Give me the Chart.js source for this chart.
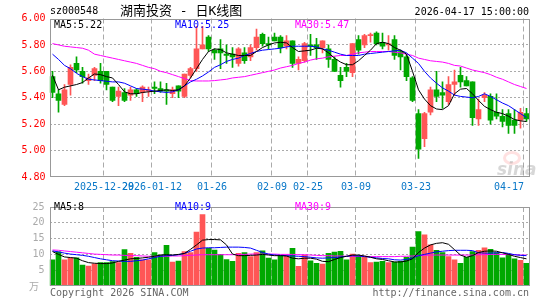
<!DOCTYPE html>
<html>
<head>
<meta charset="utf-8">
<script src="https://cdn.jsdelivr.net/npm/chart.js@4.4.1/dist/chart.umd.min.js"></script>
<style>
body{margin:0;background:#fff;}
#wrap{position:relative;width:545px;height:300px;overflow:hidden;font-family:'DejaVu Sans Mono',monospace;font-size:10px;color:#000;}
.t{position:absolute;white-space:pre;line-height:12px;}
canvas{position:absolute;left:0;}
</style>
</head>
<body>
<div id="wrap">
  <canvas id="kline" width="545" height="196" style="top:0"></canvas>
  <canvas id="vol" width="545" height="104" style="top:196px"></canvas>

  <div class="t" style="left:50px;top:5px">sz000548</div>
  <div class="t" style="left:120px;top:3px;font-size:13px;line-height:15px;font-family:'DejaVu Sans Mono','Noto Sans CJK SC',monospace">湖南投资 - 日K线图</div>
  <div class="t" style="right:16px;top:6px">2026-04-17 15:00:00</div>

  <div class="t" id="lg5" style="left:54px;top:19px;color:#000"></div>
  <div class="t" id="lg10" style="left:175px;top:19px;color:#00f"></div>
  <div class="t" id="lg30" style="left:295px;top:19px;color:#f0f"></div>

  <div class="t" id="vg5" style="left:54px;top:201px;color:#000"></div>
  <div class="t" id="vg10" style="left:175px;top:201px;color:#00f"></div>
  <div class="t" id="vg30" style="left:295px;top:201px;color:#f0f"></div>

  <div class="t" style="left:29px;top:280px;color:#aaa;font-family:'Noto Sans CJK SC'">万</div>
  <div class="t" style="left:503px;top:151px;width:12px;height:8px;border-radius:50%;border:3px solid rgba(255,120,120,.22)"></div>
  <div class="t" style="left:497px;top:159px;font:italic bold 17px 'DejaVu Sans';color:rgba(140,140,140,.35)">sina</div>

  <div class="t" style="left:50px;top:287px;color:#666">Copyright 2026 SINA.COM</div>
  <div class="t" style="right:16px;top:287px;color:#666">http://finance.sina.com.cn</div>
</div>

<script>
// trading days shown (sz000548, daily)
const dates = [
  "2025-12-16","2025-12-17","2025-12-18","2025-12-19","2025-12-22","2025-12-23","2025-12-24","2025-12-25","2025-12-26","2025-12-29",
  "2025-12-30","2025-12-31","2026-01-05","2026-01-06","2026-01-07","2026-01-08","2026-01-09","2026-01-12","2026-01-13","2026-01-14",
  "2026-01-15","2026-01-16","2026-01-19","2026-01-20","2026-01-21","2026-01-22","2026-01-23","2026-01-26","2026-01-27","2026-01-28",
  "2026-01-29","2026-01-30","2026-02-02","2026-02-03","2026-02-04","2026-02-05","2026-02-06","2026-02-09","2026-02-10","2026-02-11",
  "2026-02-12","2026-02-13","2026-02-24","2026-02-25","2026-02-26","2026-02-27","2026-03-02","2026-03-03","2026-03-04","2026-03-05",
  "2026-03-06","2026-03-09","2026-03-10","2026-03-11","2026-03-12","2026-03-13","2026-03-16","2026-03-17","2026-03-18","2026-03-19",
  "2026-03-20","2026-03-23","2026-03-24","2026-03-25","2026-03-26","2026-03-27","2026-03-30","2026-03-31","2026-04-01","2026-04-02",
  "2026-04-03","2026-04-07","2026-04-08","2026-04-09","2026-04-10","2026-04-13","2026-04-14","2026-04-15","2026-04-16","2026-04-17"
];
const tickDates = ["2025-12-29","2026-01-12","2026-01-26","2026-02-09","2026-02-25","2026-03-09","2026-03-23","2026-04-17"];
const tickText  = ["2025-12-29","2026-01-12","01-26","02-09","02-25","03-09","03-23","04-17"];

const opens  = [5.56,5.43,5.35,5.50,5.66,5.60,5.53,5.57,5.60,5.60, 5.48,5.41,5.44,5.42,5.46,5.44,5.45,5.48,5.47,5.46,
                5.43,5.49,5.41,5.57,5.62,5.77,5.86,5.76,5.77,5.73, 5.73,5.66,5.74,5.71,5.78,5.88,5.81,5.86,5.86,5.79,
                5.83,5.66,5.68,5.80,5.80,5.78,5.77,5.69,5.57,5.63, 5.59,5.84,5.80,5.87,5.89,5.82,5.80,5.84,5.75,5.71,
                5.55,5.28,5.09,5.29,5.46,5.44,5.37,5.50,5.57,5.53, 5.52,5.24,5.40,5.41,5.29,5.26,5.28,5.23,5.23,5.28];
const highs  = [5.60,5.46,5.50,5.65,5.71,5.63,5.58,5.63,5.66,5.60, 5.48,5.48,5.47,5.48,5.47,5.49,5.48,5.52,5.52,5.51,
                5.48,5.49,5.58,5.63,5.94,5.94,5.87,5.77,5.84,5.80, 5.78,5.78,5.78,5.80,5.92,5.89,5.86,5.89,5.87,5.87,
                5.83,5.71,5.82,5.88,5.85,5.83,5.80,5.71,5.63,5.66, 5.81,5.87,5.88,5.89,5.90,5.89,5.87,5.87,5.76,5.73,
                5.56,5.31,5.29,5.48,5.60,5.52,5.56,5.61,5.63,5.56, 5.52,5.39,5.44,5.43,5.43,5.31,5.31,5.31,5.32,5.32];
const lows   = [5.40,5.29,5.34,5.42,5.59,5.51,5.50,5.53,5.51,5.46, 5.37,5.34,5.37,5.38,5.41,5.37,5.41,5.43,5.44,5.35,
                5.40,5.40,5.40,5.55,5.60,5.77,5.75,5.69,5.62,5.66, 5.63,5.64,5.66,5.68,5.76,5.79,5.77,5.83,5.74,5.77,
                5.63,5.61,5.67,5.72,5.69,5.74,5.63,5.60,5.48,5.56, 5.56,5.73,5.78,5.82,5.80,5.77,5.76,5.69,5.61,5.53,
                5.37,4.94,5.03,5.27,5.37,5.32,5.35,5.42,5.48,5.49, 5.19,5.19,5.37,5.20,5.24,5.18,5.13,5.13,5.17,5.22];
const closes = [5.44,5.38,5.46,5.63,5.61,5.56,5.55,5.62,5.53,5.50, 5.38,5.45,5.38,5.46,5.43,5.48,5.46,5.47,5.45,5.45,
                5.46,5.45,5.58,5.62,5.77,5.80,5.77,5.74,5.74,5.72, 5.71,5.77,5.68,5.78,5.86,5.81,5.80,5.83,5.78,5.83,
                5.66,5.69,5.81,5.79,5.78,5.83,5.69,5.60,5.53,5.60, 5.81,5.76,5.87,5.87,5.81,5.79,5.80,5.72,5.71,5.56,
                5.38,5.01,5.28,5.46,5.41,5.42,5.50,5.52,5.52,5.49, 5.25,5.31,5.42,5.23,5.26,5.22,5.19,5.19,5.29,5.24];

const ma5  = [5.57,5.46,5.48,5.49,5.50,5.515,5.55,5.58,5.575,5.56, 5.55,5.50,5.445,5.43,5.43,5.44,5.445,5.45,5.455,5.46,
              5.455,5.46,5.49,5.55,5.62,5.69,5.75,5.77,5.765,5.74, 5.73,5.72,5.72,5.72,5.75,5.78,5.80,5.815,5.82,5.815,
              5.78,5.75,5.755,5.76,5.775,5.77,5.74,5.70,5.67,5.65, 5.65,5.68,5.72,5.76,5.81,5.82,5.81,5.78,5.76,5.73,
              5.60,5.46,5.39,5.34,5.315,5.31,5.34,5.43,5.465,5.47, 5.43,5.38,5.335,5.31,5.29,5.28,5.26,5.235,5.225,5.22];
const ma10 = [5.73,5.69,5.645,5.62,5.585,5.56,5.54,5.535,5.53,5.525, 5.52,5.52,5.51,5.49,5.47,5.465,5.46,5.45,5.445,5.44,
              5.445,5.46,5.49,5.52,5.54,5.565,5.595,5.63,5.65,5.675, 5.69,5.70,5.72,5.735,5.75,5.76,5.765,5.77,5.775,5.785,
              5.79,5.79,5.79,5.79,5.785,5.77,5.76,5.745,5.73,5.72, 5.72,5.72,5.73,5.735,5.74,5.745,5.75,5.755,5.76,5.74,
              5.70,5.66,5.60,5.55,5.51,5.475,5.45,5.42,5.41,5.405, 5.40,5.41,5.43,5.41,5.385,5.36,5.34,5.31,5.28,5.25];
const ma30 = [5.81,5.80,5.79,5.785,5.78,5.775,5.76,5.73,5.72,5.71, 5.70,5.69,5.68,5.67,5.66,5.645,5.63,5.62,5.60,5.59,
              5.575,5.56,5.545,5.53,5.527,5.527,5.527,5.53,5.535,5.54, 5.55,5.555,5.56,5.57,5.58,5.59,5.60,5.61,5.625,5.635,
              5.645,5.66,5.67,5.685,5.695,5.70,5.71,5.715,5.72,5.72, 5.73,5.74,5.745,5.75,5.75,5.75,5.75,5.745,5.74,5.73,
              5.72,5.70,5.69,5.68,5.675,5.67,5.66,5.645,5.64,5.625, 5.61,5.60,5.59,5.575,5.555,5.54,5.52,5.50,5.485,5.47];

// volume, 万手
const vols  = [8.3,10.8,8.3,8.9,8.9,6.6,6.3,7.0,7.4,7.4, 7.7,7.4,11.5,10.3,9.1,8.3,8.3,10.6,9.8,12.9,
               7.6,7.9,10.9,10.6,17.1,22.6,11.9,11.4,10.0,8.4, 7.8,10.3,10.6,9.3,10.6,11.1,8.8,8.3,9.6,9.6,
               11.9,6.2,9.8,8.0,7.2,6.9,10.3,10.7,11.0,8.3, 10.1,9.6,9.1,7.4,7.6,7.8,7.4,7.6,7.8,9.1,
               12.3,17.2,16.2,13.0,11.3,10.6,9.3,8.3,7.2,9.1, 10.9,11.3,12.1,11.6,10.6,8.9,10.1,8.6,8.1,7.2];
const vma5  = [10.9,10.0,9.2,9.0,8.8,8.0,7.4,7.2,7.1,7.1, 7.3,7.8,8.2,8.6,8.7,8.9,9.1,9.4,9.8,9.9,
               9.8,10.0,10.3,11.6,13.0,14.5,14.7,14.7,14.6,13.0, 10.1,9.6,9.6,9.7,9.8,10.0,9.8,9.6,9.6,9.5,
               8.8,8.6,8.8,8.8,8.5,7.8,7.7,8.4,9.0,9.4, 9.8,9.8,9.5,9.1,8.6,8.4,8.0,7.6,7.6,7.9,
               8.6,10.6,12.0,13.0,13.5,13.7,13.2,11.5,9.8,9.1, 9.6,10.6,11.0,11.1,11.0,10.5,10.0,9.4,9.0,8.6];
const vma10 = [11.1,10.8,10.4,10.1,9.9,9.7,9.4,9.0,8.6,8.3, 8.0,7.9,7.8,7.8,8.0,8.2,8.6,9.0,9.4,9.6,
               9.7,9.9,10.3,11.0,11.7,12.0,12.1,12.1,12.2,12.3, 12.3,12.3,12.2,12.0,11.3,10.6,10.1,9.8,9.7,9.6,
               9.5,9.4,9.3,9.1,8.9,8.8,8.9,9.0,9.2,9.4, 9.6,9.5,9.3,9.1,8.9,8.7,8.6,8.3,8.2,8.4,
               8.9,9.6,10.0,10.4,10.8,11.0,11.2,11.3,11.3,11.3, 11.2,10.5,10.4,10.4,10.5,10.6,10.3,9.9,9.7,9.6];
const vma30 = [11.4,11.3,11.1,10.9,10.7,10.5,10.3,10.1,10.0,9.9, 9.8,9.8,9.7,9.6,9.6,9.5,9.4,9.4,9.4,9.4,
               9.5,9.5,9.6,9.7,9.8,9.9,9.9,9.9,9.9,9.9, 9.9,10.0,10.0,10.1,10.1,10.1,10.1,10.1,10.0,10.0,
               10.0,9.9,9.9,9.8,9.7,9.6,9.6,9.5,9.5,9.4, 9.4,9.4,9.4,9.3,9.3,9.3,9.3,9.3,9.4,9.4,
               9.5,9.6,9.7,9.8,9.8,9.8,9.8,9.8,9.8,9.8, 9.8,9.9,9.9,10.0,10.0,10.0,9.9,9.9,9.8,9.8];

const RED = "#ff5656", GREEN = "#00a800", GRID = "#aaaaaa", FRAME = "#999999";
const upColor = i => closes[i] >= opens[i] ? RED : GREEN;
const tickIdx = tickDates.map(d => dates.indexOf(d));

Chart.defaults.font.family = "'DejaVu Sans Mono', monospace";
Chart.defaults.font.size = 10;
Chart.defaults.animation = false;

// grey box round the plot area
const frame = {
  id: "frame",
  afterDraw(chart){
    const a = chart.chartArea, c = chart.ctx;
    const x0 = Math.round(a.left) + 0.5, x1 = Math.round(a.right) - 0.5;
    const y0 = Math.round(a.top) + 0.5, y1 = Math.round(a.bottom) - 0.5;
    c.save();
    c.strokeStyle = FRAME;
    c.lineWidth = 1;
    c.strokeRect(x0, y0, x1 - x0, y1 - y0);
    c.restore();
  }
};

function xScale(showLabels, height){
  return {
    type: "category",
    offset: true,
    grid: {
      offset: true,
      drawTicks: false,
      color: c => tickIdx.includes(c.index) ? GRID : "rgba(0,0,0,0)"
    },
    border: { display: false, dash: [5, 3] },
    ticks: {
      display: showLabels,
      autoSkip: false,
      maxRotation: 0,
      minRotation: 0,
      padding: 4,
      align: "inner",
      labelOffset: -2.5,
      color: "#0a78c8",
      callback: (v, i) => {
        const k = tickIdx.indexOf(i);
        return k < 0 ? "" : tickText[k];
      }
    },
    afterFit: s => { s.height = height; }
  };
}

function maLine(data, color){
  return {
    type: "line", data, borderColor: color, borderWidth: 1,
    pointRadius: 0, tension: 0, order: 0
  };
}

new Chart(document.getElementById("kline"), {
  type: "bar",
  data: {
    labels: dates,
    datasets: [
      maLine(ma5, "#000000"),
      maLine(ma10, "#0000ff"),
      maLine(ma30, "#ff00ff"),
      {
        data: opens.map((o, i) => [o, closes[i]]),
        backgroundColor: c => upColor(c.dataIndex),
        barThickness: 5, grouped: false, minBarLength: 1, order: 1
      },
      {
        data: lows.map((l, i) => [l, highs[i]]),
        backgroundColor: c => upColor(c.dataIndex),
        barThickness: 1, grouped: false, order: 2
      }
    ]
  },
  options: {
    responsive: false,
    devicePixelRatio: 1,
    events: [],
    layout: { padding: { top: 18.5, right: 15.5, left: 0, bottom: 0 } },
    plugins: { legend: { display: false }, tooltip: { enabled: false } },
    scales: {
      x: xScale(true, 19),
      y: {
        min: 4.8, max: 6.0,
        grid: {
          drawTicks: false,
          color: c => (c.tick.value < 4.81 || c.tick.value > 5.99) ? "rgba(0,0,0,0)" : GRID
        },
        border: { display: false, dash: [2, 2] },
        ticks: { stepSize: 0.2, padding: 4, color: "#ff0000", callback: v => v.toFixed(2) },
        afterFit: s => { s.width = 49.5; }
      }
    }
  },
  plugins: [frame]
});

new Chart(document.getElementById("vol"), {
  type: "bar",
  data: {
    labels: dates,
    datasets: [
      maLine(vma5, "#000000"),
      maLine(vma10, "#0000ff"),
      maLine(vma30, "#ff00ff"),
      {
        data: vols,
        backgroundColor: c => upColor(c.dataIndex),
        barThickness: 5, grouped: false, order: 1
      }
    ]
  },
  options: {
    responsive: false,
    devicePixelRatio: 1,
    events: [],
    layout: { padding: { top: 5.5, right: 15.5, left: 0, bottom: 0 } },
    plugins: { legend: { display: false }, tooltip: { enabled: false } },
    scales: {
      x: xScale(false, 14),
      y: {
        min: 0, max: 25,
        grid: {
          drawTicks: false,
          color: c => (c.tick.value <= 0 || c.tick.value >= 25) ? "rgba(0,0,0,0)" : GRID
        },
        border: { display: false, dash: [2, 2] },
        ticks: { stepSize: 5, padding: 5, color: "#aaaaaa", callback: v => v === 0 ? "" : v },
        afterFit: s => { s.width = 49.5; }
      }
    }
  },
  plugins: [frame]
});

// legend values = last point of each average
const last = a => a[a.length - 1];
document.getElementById("lg5").textContent  = "MA5:" + last(ma5).toFixed(2);
document.getElementById("lg10").textContent = "MA10:" + last(ma10).toFixed(2);
document.getElementById("lg30").textContent = "MA30:" + last(ma30).toFixed(2);
document.getElementById("vg5").textContent  = "MA5:" + Math.floor(last(vma5));
document.getElementById("vg10").textContent = "MA10:" + Math.floor(last(vma10));
document.getElementById("vg30").textContent = "MA30:" + Math.floor(last(vma30));
</script>
</body>
</html>
